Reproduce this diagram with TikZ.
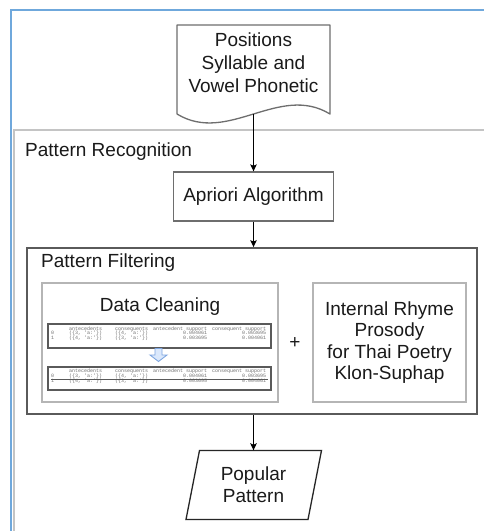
\documentclass[tikz,border=0pt]{standalone}
\usepackage{fontspec}
\setmainfont{Liberation Sans}
\newfontfamily\tblfont{Liberation Mono}
\usetikzlibrary{arrows.meta}

\definecolor{frameblue}{HTML}{6FA8DC}
\definecolor{framegray}{HTML}{C4C4C4}
\definecolor{boxdark}{HTML}{5A5A5A}
\definecolor{boxmid}{HTML}{6E6E6E}
\definecolor{boxlight}{HTML}{B5B5B5}
\definecolor{txt}{HTML}{1A1A1A}
\definecolor{tbltxt}{HTML}{707070}
\definecolor{arrowfill}{HTML}{DAE8FC}
\definecolor{arrowline}{HTML}{7EA6E0}

\begin{document}
\begin{tikzpicture}[x=1pt,y=-1pt,
  lbl/.style={font=\fontsize{19}{22.7}\selectfont, text=txt, align=center, inner sep=0pt},
  procbox/.style={draw=boxmid, line width=1.3pt, minimum width=160pt, minimum height=49pt,
                  font=\fontsize{19}{22.7}\selectfont, text=txt, inner sep=0pt},
  groupbox/.style={draw=boxdark, line width=1.8pt, inner sep=0pt},
  subbox/.style={draw=boxlight, line width=1.8pt, inner sep=0pt},
  tblframe/.style={draw=boxdark, line width=1.2pt, inner sep=0pt},
  tbltext/.style={font=\tblfont\fontsize{5}{4.5}\selectfont, text=tbltxt, inner sep=0pt, anchor=base west},
  flow/.style={draw=black, line width=1.2pt, -{Stealth[length=7pt,width=6.5pt,inset=1.5pt]}},
  outline/.style={draw=boxmid, line width=1.3pt, line join=round}
]
\useasboundingbox (0,0) rectangle (484,531);
\fill[white] (0,0) rectangle (484,531);

% outer frames (open towards the right and bottom)
\draw[frameblue, line width=2pt] (10.5,531) -- (10.5,9.5) -- (484,9.5);
\draw[framegray, line width=2pt] (14,531) -- (14,130) -- (484,130);

% input document
\node[minimum width=153pt, minimum height=89pt, inner sep=0pt] (doc) at (253.5,69.5) {};
\draw[outline] (177,114) -- (177,25) -- (330,25) -- (330,114)
  .. controls (279,83) and (228,145) .. (177,114);
\node[lbl] (doctext) at (253.5,62.75) {Positions\\Syllable and\\Vowel Phonetic};

\node[lbl, anchor=base west] (prtitle) at (25,156) {Pattern Recognition};

% apriori step
\node[procbox] (apriori) at (253.5,196.5) {Apriori Algorithm};

% pattern filtering group
\node[groupbox, minimum width=450pt, minimum height=166pt] (pf) at (252,331) {};
\node[lbl, anchor=base west] (pftitle) at (41,267) {Pattern Filtering};

% data cleaning
\node[subbox, minimum width=236pt, minimum height=119pt] (dc) at (160,342.5) {};
\node[lbl, anchor=base] (dctitle) at (160,311) {Data Cleaning};

\node[tblframe, minimum width=223pt, minimum height=24pt] (tblA) at (159.5,336) {};
\node[tbltext] (tblAtext) at (51,330) {%
  \begin{tabular}[t]{@{}p{18pt}@{}p{46pt}@{}p{38pt}@{}r@{\hspace{5pt}}r@{}}
   & antecedents & consequents & antecedent support & consequent support\\
  0 & (\{3, 'a:'\}) & (\{4, 'a:'\}) & 0.004061 & 0.003695\\
  1 & (\{4, 'a:'\}) & (\{3, 'a:'\}) & 0.003695 & 0.004061
  \end{tabular}};

\filldraw[fill=arrowfill, draw=arrowline, line width=0.9pt, line join=miter]
  (155,348.5) -- (162,348.5) -- (162,355) -- (167,355) -- (158.5,361.5)
  -- (150,355) -- (155,355) -- cycle;

\node[tblframe, minimum width=223pt, minimum height=23pt] (tblB) at (159.5,378.5) {};
\node[tbltext] (tblBtext) at (51,372.5) {%
  \begin{tabular}[t]{@{}p{18pt}@{}p{46pt}@{}p{38pt}@{}r@{\hspace{5pt}}r@{}}
   & antecedents & consequents & antecedent support & consequent support\\
  0 & (\{3, 'a:'\}) & (\{4, 'a:'\}) & 0.004061 & 0.003695\\
  1 & (\{4, 'a:'\}) & (\{3, 'a:'\}) & 0.003695 & 0.004061
  \end{tabular}};
\draw[boxdark, line width=0.8pt] (51,379.6) -- (268,379.6);

\node[lbl] (plus) at (295,343) {+};

% prosody rules
\node[subbox, minimum width=153pt, minimum height=119pt,
      font=\fontsize{19}{21.3}\selectfont, text=txt, align=center] (rhyme) at (389.5,342.5)
  {Internal Rhyme\\Prosody\\for Thai Poetry\\Klon-Suphap};

% output
\node[minimum width=122pt, minimum height=69pt, inner sep=0pt, align=center,
      font=\fontsize{19}{22}\selectfont, text=txt] (popular) at (253.5,485) {Popular\\Pattern};
\draw[draw=black!85, line width=1.3pt, line join=miter]
  (186,519.5) -- (199.5,450.5) -- (321.5,450.5) -- (308,519.5) -- cycle;

% connectors
\draw[flow] (doc.south) -- (apriori.north);
\draw[flow] (apriori.south) -- (apriori.south |- pf.north);
\draw[flow] (popular.north |- pf.south) -- (popular.north);
\end{tikzpicture}
\end{document}
